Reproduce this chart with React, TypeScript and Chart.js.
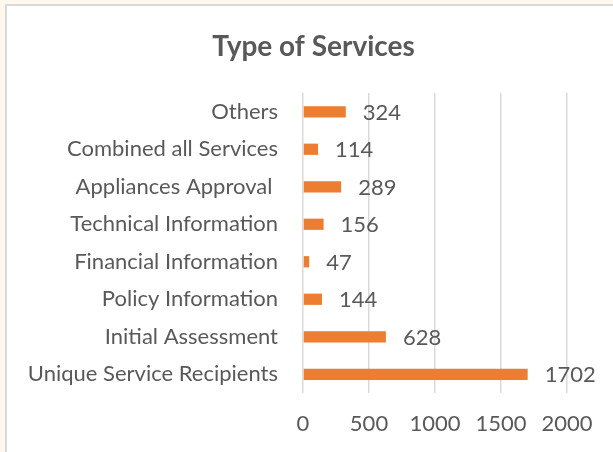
import React, { useEffect, useRef } from "react";
import { Chart, registerables } from "chart.js";

Chart.register(...registerables);

const categories = [
  "Others",
  "Combined all Services",
  "Appliances Approval ",
  "Technical Information",
  "Financial Information",
  "Policy Information",
  "Initial Assessment",
  "Unique Service Recipients",
];
const values = [324, 114, 289, 156, 47, 144, 628, 1702];
const xTicks = [0, 500, 1000, 1500, 2000];
const title = "Type of Services";

const TEXT = "#595959";
const FONT = "Lato";
const SIZE = 22;

const valueLabels = {
  id: "valueLabels",
  afterDatasetsDraw(chart: any) {
    const ctx = chart.ctx;
    const meta = chart.getDatasetMeta(0);
    ctx.save();
    ctx.font = `${SIZE}px ${FONT}`;
    ctx.fillStyle = TEXT;
    ctx.textAlign = "left";
    ctx.textBaseline = "middle";
    meta.data.forEach((bar: any, i: number) => {
      ctx.fillText(String(chart.data.datasets[0].data[i]), bar.x + 17, bar.y + 1);
    });
    ctx.restore();
  },
};

const titlePlugin = {
  id: "offsetTitle",
  afterDraw(chart: any) {
    const ctx = chart.ctx;
    ctx.save();
    ctx.font = `bold 28px ${FONT}`;
    ctx.fillStyle = TEXT;
    ctx.textAlign = "center";
    ctx.textBaseline = "middle";
    ctx.fillText(title, chart.width / 2 + 7, 47);
    ctx.restore();
  },
};

export default function App() {
  const ref = useRef<HTMLCanvasElement>(null);
  useEffect(() => {
    if (!ref.current) return;
    const chart = new Chart(ref.current, {
      type: "bar",
      data: {
        labels: categories,
        datasets: [
          {
            data: values,
            backgroundColor: "#ED7D31",
            barPercentage: 0.3,
            categoryPercentage: 1,
          },
        ],
      },
      options: {
        indexAxis: "y",
        animation: false,
        responsive: false,
        layout: { padding: { left: 0, right: 46, top: 93, bottom: 0 } },
        plugins: {
          legend: { display: false },
          tooltip: { enabled: false },
          title: { display: false },
        },
        scales: {
          x: {
            min: 0,
            max: 2000,
            afterBuildTicks: (s: any) => {
              s.ticks = xTicks.map((v) => ({ value: v }));
            },
            afterFit: (s: any) => {
              s.height = 59;
            },
            ticks: {
              color: TEXT,
              font: { family: FONT, size: SIZE },
              padding: 18,
              callback: (v: any) => String(v),
            },
            grid: { color: "#D9D9D9", lineWidth: 1.5, drawTicks: false },
            border: { display: false },
          },
          y: {
            afterFit: (s: any) => {
              s.width = 303;
            },
            ticks: {
              color: TEXT,
              font: { family: FONT, size: SIZE },
              padding: 25,
            },
            grid: { display: false, drawTicks: false },
            border: { display: false },
          },
        },
      },
      plugins: [valueLabels, titlePlugin],
    } as any);
    return () => chart.destroy();
  }, []);

  return (
    <div
      style={{
        position: "fixed",
        left: 0,
        top: 0,
        width: 613,
        height: 452,
        background: "#FEF8EE",
        overflow: "hidden",
      }}
    >
      <div
        style={{
          position: "absolute",
          left: 5,
          top: 4,
          width: 640,
          height: 480,
          border: "2px solid #D9D9D9",
          background: "#FFFFFF",
        }}
      />
      <canvas
        ref={ref}
        width={613}
        height={452}
        style={{ position: "absolute", left: 0, top: 0, width: 613, height: 452 }}
      />
    </div>
  );
}
